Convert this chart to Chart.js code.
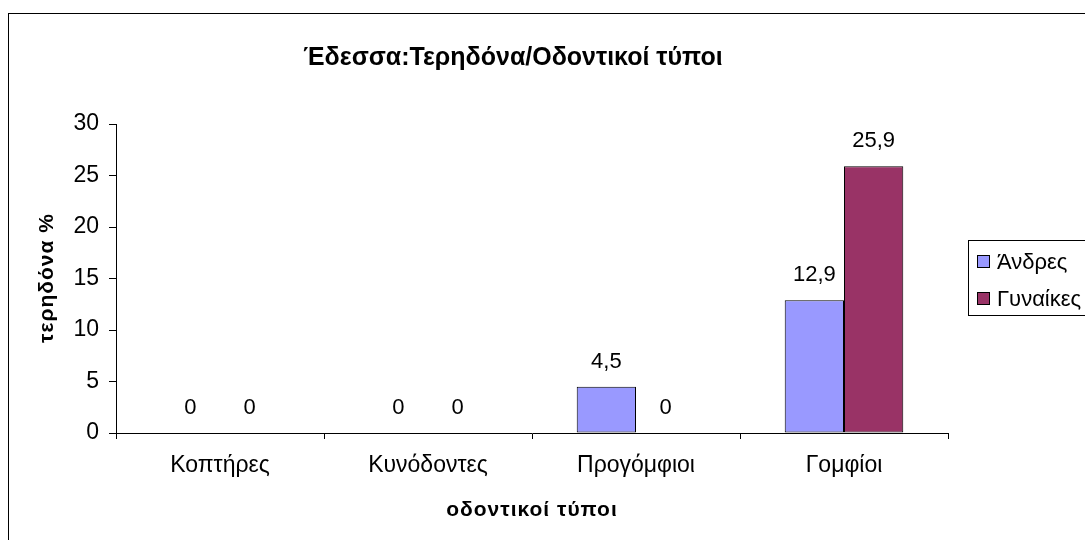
<!DOCTYPE html>
<html>
<head>
<meta charset="utf-8">
<script src="https://cdn.jsdelivr.net/npm/chart.js@4"></script>
<style>
  html, body { margin: 0; padding: 0; background: #fff; }
  #wrap { width: 1085px; height: 540px; position: relative; }
</style>
</head>
<body>
<div id="wrap"><canvas id="c"></canvas></div>
<script>
const chartTitle = 'Έδεσσα:Τερηδόνα/Οδοντικοί τύποι';
const xTitle = 'οδοντικοί τύποι';
const yTitle = 'τερηδόνα %';
const categories = ['Κοπτήρες', 'Κυνόδοντες', 'Προγόμφιοι', 'Γομφίοι'];
const seriesNames = ['Άνδρες', 'Γυναίκες'];
const andres = [0, 0, 4.5, 12.9];
const gynaikes = [0, 0, 0, 25.9];
const yTicks = [0, 5, 10, 15, 20, 25, 30];
const seriesColors = ['#9999FF', '#993366'];

const FONT = '"Liberation Sans", Arial, sans-serif';

// decimal comma for the value labels
const fmt = v => String(v).replace('.', ',');

const decor = {
  id: 'decor',
  beforeDraw(chart) {
    const ctx = chart.ctx;
    ctx.save();
    ctx.fillStyle = '#fff';
    ctx.fillRect(0, 0, chart.width, chart.height);
    ctx.strokeStyle = '#000';
    ctx.lineWidth = 1;
    ctx.strokeRect(8.5, 13.5, 1200, 600);
    ctx.restore();
  },
  afterDraw(chart) {
    const ctx = chart.ctx;
    const area = chart.chartArea;
    ctx.save();
    ctx.fillStyle = '#000';
    ctx.textAlign = 'center';
    ctx.textBaseline = 'middle';

    // chart title
    ctx.font = 'bold 25px ' + FONT;
    ctx.fillText(chartTitle, 513, 58);

    // axis titles
    ctx.font = 'bold 21px ' + FONT;
    ctx.letterSpacing = '1px';
    ctx.fillText(xTitle, (area.left + area.right) / 2, 510);
    ctx.save();
    ctx.translate(47, 278);
    ctx.rotate(-Math.PI / 2);
    ctx.fillText(yTitle, 0, 0);
    ctx.restore();
    ctx.letterSpacing = '0px';

    // value labels above each bar
    ctx.font = '22px ' + FONT;
    chart.data.datasets.forEach((ds, i) => {
      const meta = chart.getDatasetMeta(i);
      meta.data.forEach((bar, j) => {
        ctx.fillText(fmt(ds.data[j]), bar.x, bar.y - 25);
      });
    });

    // legend box
    ctx.strokeStyle = '#000';
    ctx.lineWidth = 1;
    ctx.strokeRect(968.5, 240.5, 140, 75);
    ctx.font = '22px ' + FONT;
    ctx.textAlign = 'left';
    const rows = [262, 299];
    seriesNames.forEach((name, i) => {
      ctx.fillStyle = seriesColors[i];
      ctx.fillRect(977.5, rows[i] - 6.5, 12, 12);
      ctx.strokeRect(977.5, rows[i] - 6.5, 12, 12);
      ctx.fillStyle = '#000';
      ctx.fillText(name, 997, rows[i] + 1);
    });
    ctx.restore();
  }
};

new Chart(document.getElementById('c'), {
  type: 'bar',
  data: {
    labels: categories,
    datasets: [
      { label: seriesNames[0], data: andres, backgroundColor: seriesColors[0], borderColor: '#000', borderWidth: 1, borderSkipped: false },
      { label: seriesNames[1], data: gynaikes, backgroundColor: seriesColors[1], borderColor: '#000', borderWidth: 1, borderSkipped: false }
    ]
  },
  options: {
    responsive: true,
    maintainAspectRatio: false,
    animation: false,
    devicePixelRatio: 1,
    layout: { padding: { left: 0, top: 124, right: 137, bottom: 0 } },
    datasets: { bar: { barPercentage: 1, categoryPercentage: 0.57 } },
    plugins: { legend: { display: false }, title: { display: false }, tooltip: { enabled: false } },
    scales: {
      x: {
        offset: true,
        grid: { offset: true, drawOnChartArea: false, tickLength: 6, color: '#000', tickColor: '#000' },
        border: { color: '#000', width: 1 },
        ticks: { color: '#000', font: { family: FONT, size: 23 }, padding: 13, maxRotation: 0, autoSkip: false },
        afterFit(s) { s.height = 540 - 433; }
      },
      y: {
        min: 0, max: 30,
        afterBuildTicks(s) { s.ticks = yTicks.map(v => ({ value: v })); },
        grid: { drawOnChartArea: false, tickLength: 7, color: '#000', tickColor: '#000' },
        border: { color: '#000', width: 1 },
        ticks: { color: '#000', font: { family: FONT, size: 23 }, padding: 10 },
        afterFit(s) { s.width = 116; }
      }
    }
  },
  plugins: [decor]
});
</script>
</body>
</html>
